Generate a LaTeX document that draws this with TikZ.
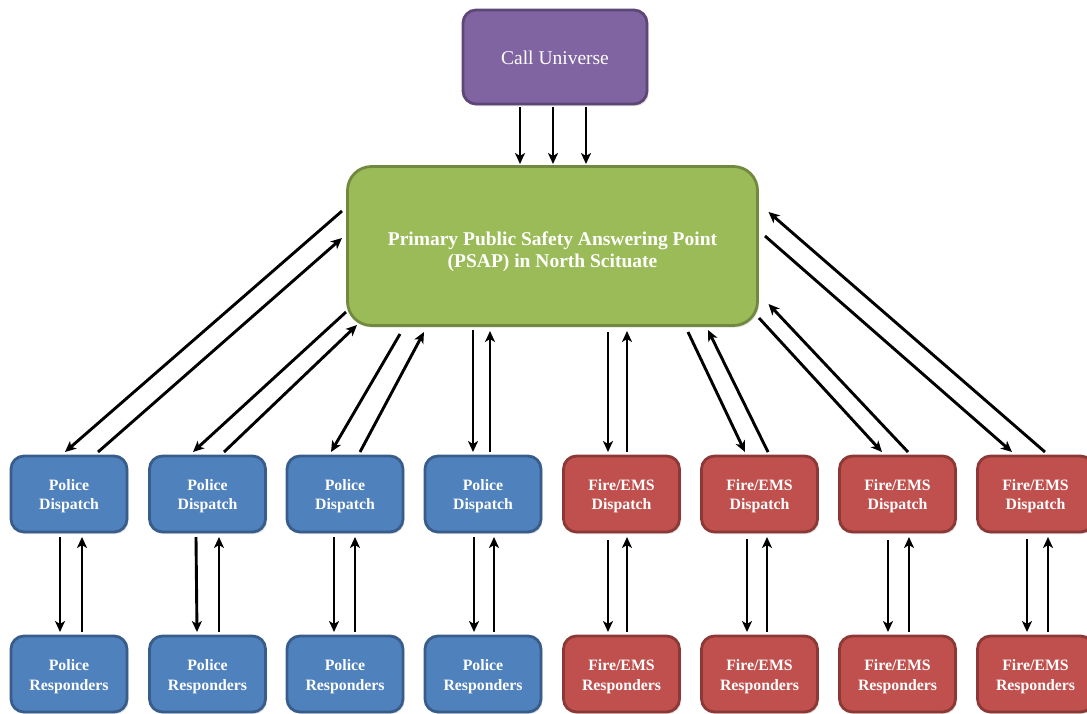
\documentclass[tikz,border=0pt]{standalone}
\usepackage{fontspec}
\setmainfont{Liberation Serif}
\usetikzlibrary{arrows.meta,shadows}
\definecolor{cuFill}{HTML}{8064A2}
\definecolor{cuLine}{HTML}{5C4776}
\definecolor{psFill}{HTML}{9BBB59}
\definecolor{psLine}{HTML}{71893F}
\definecolor{poFill}{HTML}{4F81BD}
\definecolor{poLine}{HTML}{385D8A}
\definecolor{fiFill}{HTML}{C0504D}
\definecolor{fiLine}{HTML}{8C3836}
\tikzset{
  box/.style={rounded corners=13pt, line width=2.8pt, inner sep=0pt,
    drop shadow={opacity=0.25, shadow xshift=1.5pt, shadow yshift=-2pt}},
  txt/.style={text=white, align=center, inner sep=0pt},
  cubox/.style={box, fill=cuFill, draw=cuLine, minimum width=184pt, minimum height=94pt},
  psbox/.style={box, rounded corners=24pt, fill=psFill, draw=psLine, minimum width=410pt, minimum height=159pt},
  smallbox/.style={box, minimum width=116pt, minimum height=76pt},
  pobox/.style={smallbox, fill=poFill, draw=poLine},
  fibox/.style={smallbox, fill=fiFill, draw=fiLine},
  bigtxt/.style={txt, font=\fontsize{19.5}{22}\selectfont},
  pstxt/.style={txt, font=\fontsize{19.5}{22}\selectfont\bfseries},
  smalltxt/.style={txt, font=\fontsize{15.8}{19.5}\selectfont\bfseries},
  arr/.style={-{Stealth[length=11pt,width=10pt,inset=3pt]}, line width=2.9pt, black},
}
\begin{document}
\begin{tikzpicture}[x=1pt,y=-1pt]
\useasboundingbox (0,0) rectangle (1087,713);

\node[cubox] (cu) at (555,57) {};
\node[bigtxt] (cut) at ([yshift=-1pt]cu.center) {Call Universe};
\node[psbox] (psap) at (552.5,246) {};
\node[pstxt] (psapt) at ([yshift=-6pt]psap.center) {Primary Public Safety Answering Point\\(PSAP) in North Scituate};

\foreach \n/\x in {1/69, 2/207.5, 3/345, 4/483} {
  \node[pobox] (d\n) at (\x,494) {};
  \node[smalltxt] (d\n t) at ([yshift=-2pt]d\n.center) {Police\\Dispatch};
  \node[pobox] (r\n) at (\x,674) {};
  \node[smalltxt] (r\n t) at ([yshift=-2.5pt]r\n.center) {Police\\Responders};
}
\foreach \n/\x in {1/621.5, 2/759.5, 3/897.5, 4/1035.5} {
  \node[fibox] (f\n) at (\x,494) {};
  \node[smalltxt] (f\n t) at ([yshift=-2pt]f\n.center) {Fire/EMS\\Dispatch};
  \node[fibox] (s\n) at (\x,674) {};
  \node[smalltxt] (s\n t) at ([yshift=-2.5pt]s\n.center) {Fire/EMS\\Responders};
}

% Call Universe -> PSAP
\draw[arr] ([shift={(-35,50)}]cu.center) -- ([shift={(-32.5,-82)}]psap.center);
\draw[arr] ([shift={(-2,50)}]cu.center) -- ([shift={(0.5,-82)}]psap.center);
\draw[arr] ([shift={(31,50)}]cu.center) -- ([shift={(33.5,-82)}]psap.center);

% PSAP <-> dispatch
\draw[arr] ([shift={(-210.5,-35)}]psap.center) -- ([shift={(-4,-42)}]d1.center);
\draw[arr] ([shift={(29,-42)}]d1.center) -- ([shift={(-210.5,-8)}]psap.center);
\draw[arr] ([shift={(-206.5,66)}]psap.center) -- ([shift={(-14.5,-42)}]d2.center);
\draw[arr] ([shift={(16.5,-42)}]d2.center) -- ([shift={(-195.5,79)}]psap.center);
\draw[arr] ([shift={(-152.5,88)}]psap.center) -- ([shift={(-14,-42)}]d3.center);
\draw[arr] ([shift={(15,-42)}]d3.center) -- ([shift={(-128.5,86)}]psap.center);
\draw[arr] ([shift={(-79.5,84)}]psap.center) -- ([shift={(-10,-42)}]d4.center);
\draw[arr] ([shift={(7,-42)}]d4.center) -- ([shift={(-62.5,85)}]psap.center);
\draw[arr] ([shift={(55.5,86)}]psap.center) -- ([shift={(-13.5,-42)}]f1.center);
\draw[arr] ([shift={(5.5,-42)}]f1.center) -- ([shift={(74.5,85)}]psap.center);
\draw[arr] ([shift={(135.5,86)}]psap.center) -- ([shift={(-14.5,-42)}]f2.center);
\draw[arr] ([shift={(8.5,-42)}]f2.center) -- ([shift={(155.5,84)}]psap.center);
\draw[arr] ([shift={(206.5,72)}]psap.center) -- ([shift={(-15.5,-42)}]f3.center);
\draw[arr] ([shift={(10.5,-42)}]f3.center) -- ([shift={(216,58)}]psap.center);
\draw[arr] ([shift={(212.5,-10)}]psap.center) -- ([shift={(-23.5,-42)}]f4.center);
\draw[arr] ([shift={(9.5,-42)}]f4.center) -- ([shift={(216,-34)}]psap.center);

% dispatch <-> responders
\draw[arr] ([shift={(-9,43)}]d1.center) -- ([shift={(-9,-42)}]r1.center);
\draw[arr] ([shift={(13,-42)}]r1.center) -- ([shift={(13,43)}]d1.center);
\draw[arr] ([shift={(-11.5,43)}]d2.center) -- ([shift={(-10.5,-42)}]r2.center);
\draw[arr] ([shift={(11.5,-42)}]r2.center) -- ([shift={(11.5,43)}]d2.center);
\draw[arr] ([shift={(-11,43)}]d3.center) -- ([shift={(-11,-42)}]r3.center);
\draw[arr] ([shift={(10,-42)}]r3.center) -- ([shift={(10,43)}]d3.center);
\draw[arr] ([shift={(-9,43)}]d4.center) -- ([shift={(-9,-42)}]r4.center);
\draw[arr] ([shift={(11,-42)}]r4.center) -- ([shift={(11,43)}]d4.center);
\draw[arr] ([shift={(-13.5,46)}]f1.center) -- ([shift={(-13.5,-42)}]s1.center);
\draw[arr] ([shift={(5.5,-42)}]s1.center) -- ([shift={(5.5,43)}]f1.center);
\draw[arr] ([shift={(-12.5,45)}]f2.center) -- ([shift={(-12.5,-42)}]s2.center);
\draw[arr] ([shift={(7.5,-42)}]s2.center) -- ([shift={(7.5,43)}]f2.center);
\draw[arr] ([shift={(-9.5,46)}]f3.center) -- ([shift={(-9.5,-42)}]s3.center);
\draw[arr] ([shift={(11.5,-42)}]s3.center) -- ([shift={(11.5,43)}]f3.center);
\draw[arr] ([shift={(-8.5,45)}]f4.center) -- ([shift={(-8.5,-42)}]s4.center);
\draw[arr] ([shift={(12.5,-42)}]s4.center) -- ([shift={(12.5,43)}]f4.center);
\end{tikzpicture}
\end{document}
